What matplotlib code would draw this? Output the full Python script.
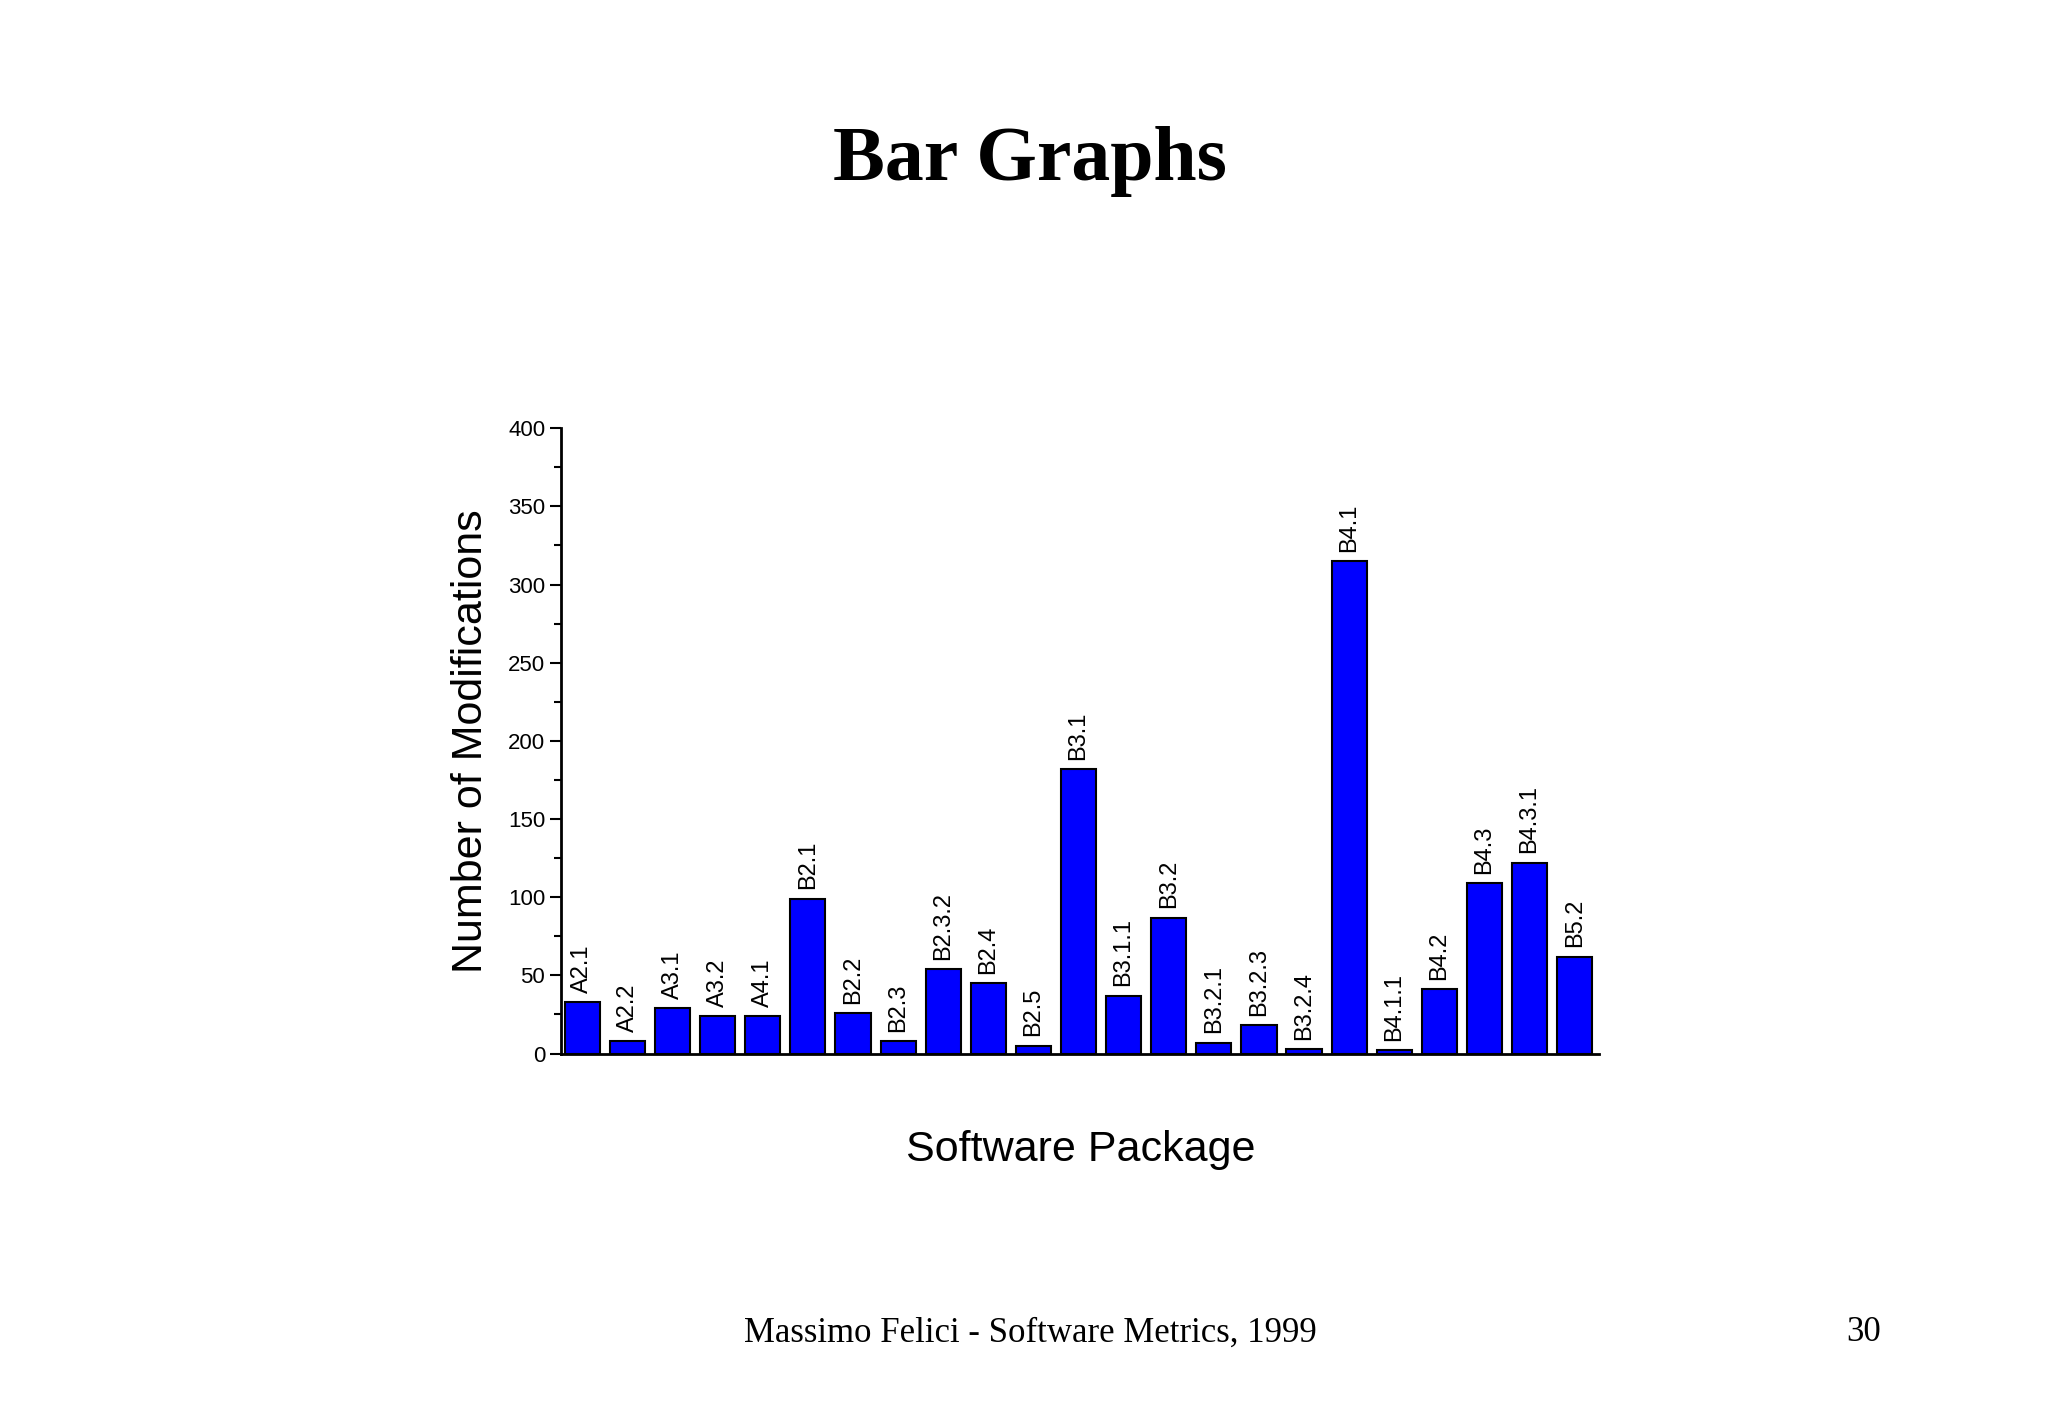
import matplotlib
matplotlib.use("Agg")
import matplotlib.pyplot as plt
from matplotlib.ticker import MultipleLocator

categories = ["A2.1","A2.2","A3.1","A3.2","A4.1","B2.1","B2.2","B2.3","B2.3.2","B2.4","B2.5",
              "B3.1","B3.1.1","B3.2","B3.2.1","B3.2.3","B3.2.4","B4.1","B4.1.1","B4.2","B4.3","B4.3.1","B5.2"]
values = [33, 8, 29, 24, 24, 99, 26, 8, 54, 45, 5, 182, 37, 87, 7, 18, 3, 315, 2, 41, 109, 122, 62]

fig = plt.figure(figsize=(20.48, 14.18), dpi=100)
ax = fig.add_axes([0.274, 0.257, 0.507, 0.441])
x = range(len(values))
ax.bar(x, values, width=0.78, color="#0000ff", edgecolor="black", linewidth=1.5)
for xi, v, c in zip(x, values, categories):
    ax.text(xi, v + 6, c, rotation=90, ha="center", va="bottom",
            fontsize=17, family="Liberation Sans")
ax.set_xlim(-0.47, len(values) - 0.45)
ax.set_ylim(0, 400)
ax.yaxis.set_major_locator(MultipleLocator(50))
ax.yaxis.set_minor_locator(MultipleLocator(25))
ax.set_xticks([])
for s in ["top", "right"]:
    ax.spines[s].set_visible(False)
for s in ["left", "bottom"]:
    ax.spines[s].set_linewidth(2)
ax.tick_params(axis="y", which="major", direction="out", length=8, width=1.5, labelsize=16)
ax.tick_params(axis="y", which="minor", direction="out", length=5, width=1.5)
for lab in ax.get_yticklabels():
    lab.set_family("Liberation Sans")
ax.set_ylabel("Number of Modifications", fontsize=31, family="Liberation Sans", labelpad=12)
ax.set_xlabel("Software Package", fontsize=31, family="Liberation Sans", labelpad=55)

fig.text(0.503, 0.886, "Bar Graphs", ha="center", va="center", fontsize=56,
         fontweight="bold", family="Liberation Serif")
fig.text(0.503, 0.06, "Massimo Felici - Software Metrics, 1999", ha="center", va="center",
         fontsize=25, family="Liberation Serif")
fig.text(0.91, 0.06, "30", ha="center", va="center", fontsize=25, family="Liberation Serif")
fig.savefig("out.png", dpi=100)
